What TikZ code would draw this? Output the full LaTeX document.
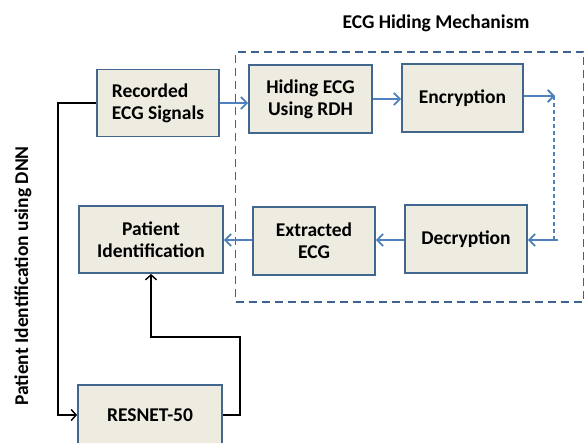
\documentclass[tikz,border=0pt]{standalone}
\usepackage{fontspec}
\setmainfont{Carlito}
\usetikzlibrary{arrows.meta}
\definecolor{boxfill}{HTML}{EEECE1}
\definecolor{boxline}{HTML}{41678F}
\definecolor{flow}{HTML}{4F81BD}
\definecolor{frame}{HTML}{3E6391}
\begin{document}
\begin{tikzpicture}[x=1pt,y=-1pt,
  block/.style={draw=boxline,line width=1.8pt,fill=boxfill,font=\bfseries\fontsize{19.5}{22}\selectfont,align=center,inner sep=0pt},
  flowarrow/.style={draw=flow,line width=2pt,-{Straight Barb[length=6pt,width=12pt,line width=1.8pt]}},
  dnnarrow/.style={draw=black,line width=1.5pt,-{Straight Barb[length=5pt,width=11pt,line width=1.4pt]}}]
\useasboundingbox (0,0) rectangle (585,442);
\begin{scope}
\clip (0,0) rectangle (585,442);
\node[draw=frame,line width=1.8pt,dash pattern=on 8pt off 5pt,minimum width=348pt,minimum height=250pt] (mech) at (409.5,177) {};
\node[font=\bfseries\fontsize{19.5}{22}\selectfont] (title) at (436,23) {ECG Hiding Mechanism};
\node[font=\bfseries\fontsize{19.5}{22}\selectfont,rotate=90] (dnn) at (23,276) {Patient Identification using DNN};
\node[block,minimum width=122pt,minimum height=67pt,align=left] (rec) at (158,103) {Recorded\\ECG Signals};
\node[block,minimum width=123pt,minimum height=68pt] (hide) at (310.5,99) {Hiding ECG\\Using RDH};
\node[block,minimum width=121pt,minimum height=68pt] (enc) at (462.5,98) {Encryption};
\node[block,minimum width=122pt,minimum height=68pt] (dec) at (466,239) {Decryption};
\node[block,minimum width=122pt,minimum height=68pt] (ext) at (314,241) {Extracted\\ECG};
\node[block,minimum width=144pt,minimum height=67pt] (pid) at (151,239.5) {Patient\\Identification};
\node[block,minimum width=144pt,minimum height=60pt] (resnet) at (150,415) {RESNET-50};
\coordinate (out) at (555,96);
\coordinate (turn) at (554,240);
\coordinate (back) at (558,240);
\coordinate (bend) at (151,337);
\path[flowarrow] (rec.east) -- (rec.east -| hide.west);
\path[flowarrow] (hide.east) -- (hide.east -| enc.west);
\path[flowarrow] (enc.east |- out) -- (out);
\path[draw=flow,line width=1.1pt,dash pattern=on 4pt off 3pt] (out) ++(-1,0) -- (turn);
\path[flowarrow] (back) -- (back -| dec.east);
\path[flowarrow] (dec.west |- back) -- (back -| ext.east);
\path[flowarrow] (ext.west |- back) -- (back -| pid.east);
\path[dnnarrow] (rec.west) -- ++(-38,0) |- (resnet.west);
\path[dnnarrow] (resnet.east) -- ++(17,0) |- (bend) -- (pid.south);
\end{scope}
\end{tikzpicture}
\end{document}
